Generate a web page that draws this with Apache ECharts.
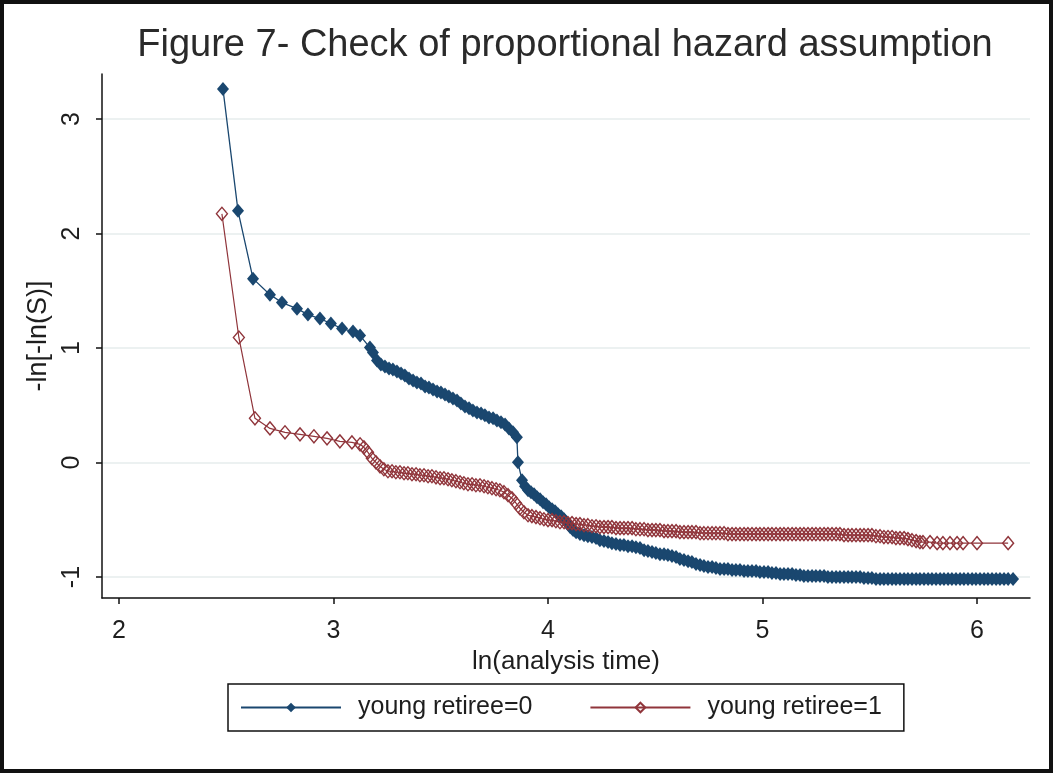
<!DOCTYPE html>
<html>
<head>
<meta charset="utf-8">
<title>Figure 7- Check of proportional hazard assumption</title>
<script src="https://cdn.jsdelivr.net/npm/echarts@6/dist/echarts.min.js"></script>
<style>
  html, body { margin: 0; padding: 0; background: #ffffff; }
  #chart { width: 1053px; height: 773px; }
</style>
</head>
<body>
<div id="chart"></div>
<script>
// -ln[-ln(S)] against ln(analysis time), one curve per group
const titleText = 'Figure 7- Check of proportional hazard assumption';
const xName = 'ln(analysis time)';
const yName = '-ln[-ln(S)]';
const seriesNames = ['young retiree=0', 'young retiree=1'];
const xTicks = [2, 3, 4, 5, 6];
const yTicks = [-1, 0, 1, 2, 3];

// [ln(t), -ln(-ln(S))] for young retiree = 0
const young0 = [
  [2.485, 3.261], [2.555, 2.198], [2.625, 1.606], [2.704, 1.466], [2.760, 1.397],
  [2.830, 1.344], [2.881, 1.292], [2.937, 1.257], [2.988, 1.214], [3.040, 1.170],
  [3.091, 1.144], [3.124, 1.109], [3.170, 1.004], [3.184, 0.961], [3.203, 0.891],
  [3.221, 0.856], [3.240, 0.839], [3.259, 0.821], [3.277, 0.813], [3.296, 0.795],
  [3.315, 0.778], [3.333, 0.760], [3.352, 0.734], [3.371, 0.717], [3.389, 0.699],
  [3.408, 0.691], [3.427, 0.664], [3.445, 0.656], [3.464, 0.638], [3.483, 0.621],
  [3.501, 0.612], [3.520, 0.595], [3.538, 0.577], [3.557, 0.560], [3.576, 0.542],
  [3.594, 0.516], [3.613, 0.490], [3.632, 0.473], [3.650, 0.455], [3.669, 0.438],
  [3.688, 0.429], [3.706, 0.412], [3.725, 0.394], [3.744, 0.386], [3.762, 0.368],
  [3.781, 0.351], [3.800, 0.333], [3.818, 0.298], [3.837, 0.264], [3.855, 0.220],
  [3.860, 0.002], [3.879, -0.155], [3.893, -0.207], [3.907, -0.242], [3.921, -0.259],
  [3.935, -0.277], [3.949, -0.303], [3.963, -0.320], [3.977, -0.346], [3.991, -0.364],
  [4.005, -0.390], [4.019, -0.407], [4.033, -0.425], [4.047, -0.451], [4.061, -0.468],
  [4.075, -0.495], [4.089, -0.529], [4.103, -0.564], [4.117, -0.590], [4.131, -0.608],
  [4.149, -0.625], [4.168, -0.634], [4.186, -0.643], [4.205, -0.651], [4.224, -0.660],
  [4.242, -0.678], [4.261, -0.686], [4.280, -0.695], [4.298, -0.704], [4.317, -0.712],
  [4.336, -0.721], [4.354, -0.721], [4.373, -0.730], [4.392, -0.730], [4.410, -0.739],
  [4.429, -0.747], [4.448, -0.765], [4.466, -0.773], [4.485, -0.782], [4.503, -0.791],
  [4.522, -0.800], [4.541, -0.800], [4.559, -0.808], [4.578, -0.817], [4.597, -0.826],
  [4.615, -0.843], [4.634, -0.852], [4.653, -0.861], [4.671, -0.869], [4.690, -0.887],
  [4.709, -0.895], [4.727, -0.904], [4.746, -0.913], [4.765, -0.913], [4.783, -0.922],
  [4.802, -0.930], [4.821, -0.930], [4.839, -0.930], [4.858, -0.939], [4.876, -0.939],
  [4.895, -0.939], [4.914, -0.948], [4.932, -0.948], [4.951, -0.948], [4.970, -0.948],
  [4.988, -0.956], [5.007, -0.956], [5.026, -0.956], [5.044, -0.965], [5.063, -0.965],
  [5.082, -0.974], [5.100, -0.974], [5.119, -0.974], [5.138, -0.974], [5.156, -0.983],
  [5.175, -0.983], [5.193, -0.991], [5.212, -0.991], [5.231, -0.991], [5.249, -0.991],
  [5.268, -0.991], [5.287, -0.991], [5.305, -1.000], [5.324, -1.000], [5.343, -1.000],
  [5.361, -1.000], [5.380, -1.000], [5.399, -1.000], [5.417, -1.000], [5.436, -1.000],
  [5.455, -1.000], [5.473, -1.009], [5.492, -1.009], [5.510, -1.009], [5.529, -1.017],
  [5.548, -1.017], [5.566, -1.017], [5.585, -1.017], [5.604, -1.017], [5.622, -1.017],
  [5.641, -1.017], [5.660, -1.017], [5.678, -1.017], [5.697, -1.017], [5.716, -1.017],
  [5.734, -1.017], [5.753, -1.017], [5.772, -1.017], [5.790, -1.017], [5.809, -1.017],
  [5.828, -1.017], [5.846, -1.017], [5.865, -1.017], [5.883, -1.017], [5.902, -1.017],
  [5.921, -1.017], [5.939, -1.017], [5.958, -1.017], [5.977, -1.017], [5.995, -1.017],
  [6.014, -1.017], [6.033, -1.017], [6.051, -1.017], [6.070, -1.017], [6.089, -1.017],
  [6.107, -1.017], [6.126, -1.017], [6.145, -1.017], [6.168, -1.017]
];

// [ln(t), -ln(-ln(S))] for young retiree = 1
const young1 = [
  [2.480, 2.172], [2.559, 1.092], [2.634, 0.386], [2.704, 0.298], [2.774, 0.264],
  [2.844, 0.246], [2.909, 0.229], [2.970, 0.211], [3.030, 0.185], [3.086, 0.176],
  [3.124, 0.159], [3.142, 0.133], [3.161, 0.089], [3.179, 0.037], [3.198, 0.002],
  [3.217, -0.033], [3.235, -0.059], [3.254, -0.076], [3.273, -0.076], [3.291, -0.085],
  [3.310, -0.085], [3.329, -0.094], [3.347, -0.094], [3.366, -0.102], [3.385, -0.102],
  [3.403, -0.111], [3.422, -0.111], [3.441, -0.120], [3.459, -0.120], [3.478, -0.129],
  [3.497, -0.137], [3.515, -0.137], [3.534, -0.146], [3.552, -0.155], [3.571, -0.163],
  [3.590, -0.172], [3.608, -0.181], [3.627, -0.190], [3.646, -0.190], [3.664, -0.198],
  [3.683, -0.198], [3.702, -0.207], [3.720, -0.216], [3.739, -0.224], [3.758, -0.233],
  [3.776, -0.242], [3.795, -0.259], [3.814, -0.285], [3.832, -0.312], [3.851, -0.355],
  [3.869, -0.399], [3.888, -0.434], [3.907, -0.460], [3.925, -0.468], [3.944, -0.477],
  [3.963, -0.486], [3.981, -0.495], [4.000, -0.503], [4.019, -0.503], [4.037, -0.512],
  [4.056, -0.521], [4.075, -0.521], [4.093, -0.529], [4.112, -0.529], [4.131, -0.538],
  [4.149, -0.538], [4.168, -0.547], [4.186, -0.547], [4.205, -0.556], [4.224, -0.556],
  [4.242, -0.564], [4.261, -0.564], [4.280, -0.564], [4.298, -0.564], [4.317, -0.573],
  [4.336, -0.573], [4.354, -0.573], [4.373, -0.573], [4.392, -0.573], [4.410, -0.582],
  [4.429, -0.582], [4.448, -0.582], [4.466, -0.590], [4.485, -0.590], [4.503, -0.590],
  [4.522, -0.590], [4.541, -0.599], [4.559, -0.599], [4.578, -0.599], [4.597, -0.599],
  [4.615, -0.608], [4.634, -0.608], [4.653, -0.608], [4.671, -0.608], [4.690, -0.608],
  [4.709, -0.617], [4.727, -0.617], [4.746, -0.617], [4.765, -0.617], [4.783, -0.617],
  [4.802, -0.617], [4.821, -0.617], [4.839, -0.625], [4.858, -0.625], [4.876, -0.625],
  [4.895, -0.625], [4.914, -0.625], [4.932, -0.625], [4.951, -0.625], [4.970, -0.625],
  [4.988, -0.625], [5.007, -0.625], [5.026, -0.625], [5.044, -0.625], [5.063, -0.625],
  [5.082, -0.625], [5.100, -0.625], [5.119, -0.625], [5.138, -0.625], [5.156, -0.625],
  [5.175, -0.625], [5.193, -0.625], [5.212, -0.625], [5.231, -0.625], [5.249, -0.625],
  [5.268, -0.625], [5.287, -0.625], [5.305, -0.625], [5.324, -0.625], [5.343, -0.625],
  [5.361, -0.625], [5.380, -0.634], [5.399, -0.634], [5.417, -0.634], [5.436, -0.634],
  [5.455, -0.634], [5.473, -0.634], [5.492, -0.634], [5.510, -0.634], [5.529, -0.643],
  [5.548, -0.643], [5.566, -0.651], [5.585, -0.651], [5.604, -0.651], [5.622, -0.660],
  [5.641, -0.660], [5.660, -0.660], [5.678, -0.669], [5.697, -0.678], [5.716, -0.686],
  [5.734, -0.695], [5.748, -0.695], [5.781, -0.695], [5.814, -0.704], [5.841, -0.704],
  [5.874, -0.704], [5.907, -0.704], [5.935, -0.704], [6.000, -0.704], [6.145, -0.704]
];

const FONT = "'Liberation Sans', Arial, Helvetica, sans-serif";
const NAVY = '#1a476f';
const MAROON = '#90353b';
const INK = '#1e1e1e';

const chart = echarts.init(document.getElementById('chart'), null, { renderer: 'canvas' });

chart.setOption({
  animation: false,
  backgroundColor: '#ffffff',
  textStyle: { fontFamily: FONT },
  title: {
    text: titleText,
    left: 565,
    textAlign: 'center',
    top: 27,
    padding: 0,
    textStyle: { fontFamily: FONT, fontSize: 38, fontWeight: 'normal', color: '#2a2a2a' }
  },
  grid: { left: 102, right: 23, top: 74, bottom: 175, containLabel: false },
  legend: {
    data: seriesNames,
    left: 228,
    top: 684,
    orient: 'horizontal',
    itemWidth: 100,
    itemHeight: 12,
    itemGap: 57,
    padding: [11, 22, 11, 12],
    borderColor: '#111',
    borderWidth: 1.5,
    backgroundColor: '#ffffff',
    textStyle: { fontFamily: FONT, fontSize: 25, color: INK, padding: [0, 0, 0, 12] }
  },
  xAxis: {
    type: 'value',
    min: 1.921,
    max: 6.247,
    name: xName,
    nameLocation: 'middle',
    nameGap: 46,
    nameTextStyle: { fontFamily: FONT, fontSize: 26, color: INK },
    axisLine: { show: true, onZero: false, lineStyle: { color: '#111', width: 1.5 } },
    axisTick: { show: true, length: 6, customValues: xTicks, lineStyle: { color: '#111', width: 1.5 } },
    axisLabel: { customValues: xTicks, fontFamily: FONT, fontSize: 25, color: INK, margin: 21 },
    splitLine: { show: false }
  },
  yAxis: {
    type: 'value',
    min: -1.183,
    max: 3.393,
    name: yName,
    nameLocation: 'middle',
    nameGap: 42,
    nameTextStyle: { fontFamily: FONT, fontSize: 27, color: INK },
    axisLine: { show: true, onZero: false, lineStyle: { color: '#111', width: 1.5 } },
    axisTick: { show: true, length: 6, customValues: yTicks, lineStyle: { color: '#111', width: 1.5 } },
    axisLabel: { customValues: yTicks, rotate: 90, fontFamily: FONT, fontSize: 25, color: INK, margin: 17 },
    splitLine: { show: true, lineStyle: { color: '#e6ecec', width: 1.5 } }
  },
  series: [
    {
      name: seriesNames[0],
      type: 'line',
      data: young0,
      symbol: 'diamond',
      symbolSize: [12, 14],
      itemStyle: { color: NAVY },
      lineStyle: { color: NAVY, width: 1.3 },
      z: 2
    },
    {
      name: seriesNames[1],
      type: 'line',
      data: young1,
      symbol: 'diamond',
      symbolSize: [11, 13],
      itemStyle: { color: 'rgba(255,255,255,0)', borderColor: MAROON, borderWidth: 1.4 },
      lineStyle: { color: MAROON, width: 1.2 },
      z: 3
    }
  ],
  graphic: [
    {
      type: 'rect',
      silent: true,
      z: 100,
      shape: { x: 2, y: 2, width: 1049, height: 769 },
      style: { fill: 'none', stroke: '#111', lineWidth: 4 }
    }
  ]
});
</script>
</body>
</html>
